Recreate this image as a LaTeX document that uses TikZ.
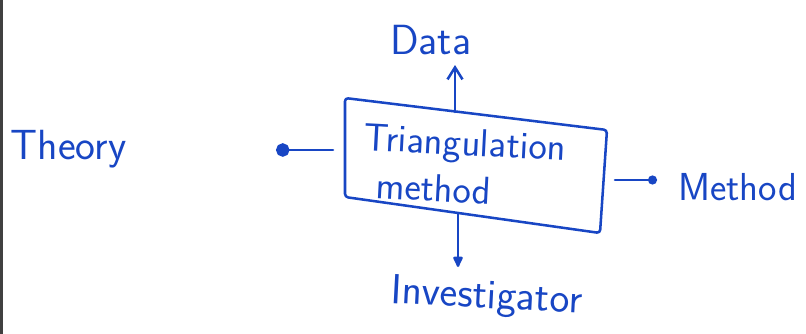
\documentclass[tikz,border=0pt]{standalone}
\usepackage{fontspec}
\usepackage{xcolor}
\usepackage{tikz}
\usetikzlibrary{arrows.meta,positioning,calc}

\definecolor{inkblue}{RGB}{24,70,196}

\begin{document}
\begin{tikzpicture}[
        ink/.style={draw=inkblue, line width=2.4pt, line cap=round, line join=round},
        label/.style={text=inkblue, font=\sffamily\fontsize{40}{44}\selectfont, anchor=base west, inner sep=0pt},
        boxtext/.style={label, font=\sffamily\fontsize{37}{40}\selectfont, rotate=-3},
        upto/.style={ink, -{Straight Barb[length=4mm, width=5mm]}},
        blob/.style={ink, -{Circle[length=4.5mm]}},
        dropto/.style={ink, -{Latex[length=4.5mm, width=4mm, round]}}
    ]
        % Page frame
        \useasboundingbox (0,0) rectangle (26.867,-11.133);
        \draw[black!75, line width=3pt] (0.05,0) -- (0.05,-11.133);

        % Box corners
        \coordinate (bTL) at (11.5,-3.267);
        \coordinate (bTR) at (20.233,-4.333);
        \coordinate (bBR) at (20.0,-7.767);
        \coordinate (bBL) at (11.5,-6.567);
        \draw[ink, rounded corners=3pt] (bTL) -- (bTR) -- (bBR) -- (bBL) -- cycle;

        % Box text
        \node[boxtext] (tri) at (12.1,-5.0) {Triangulation};
        \node[boxtext] (meth) at (12.5,-6.6) {method};

        % Labels
        \node[label] (data) at (13.0,-1.833) {Data};
        \node[label] (theory) at (0.35,-5.333) {Theory};
        \node[label, font=\sffamily\fontsize{37}{40}\selectfont] (method) at (22.6,-6.667) {Method};
        \node[label, rotate=-3] (invest) at (13.0,-10.1) {Investigator};

        % Arrow ends
        \coordinate (upS) at (15.167,-3.733);
        \coordinate (upE) at (15.167,-2.167);
        \coordinate (leftS) at (11.1,-5.0);
        \coordinate (leftE) at (9.2,-5.0);
        \coordinate (rightS) at (20.5,-6.0);
        \coordinate (rightE) at (21.9,-6.0);
        \coordinate (downS) at (15.267,-7.1);
        \coordinate (downE) at (15.267,-8.9);

        % Arrows
        \draw[upto] (upS) -- (upE);
        \draw[blob] (leftS) -- (leftE);
        \draw[ink, -{Circle[length=3mm]}] (rightS) -- (rightE);
        \draw[dropto] (downS) -- (downE);
    \end{tikzpicture}
\end{document}
